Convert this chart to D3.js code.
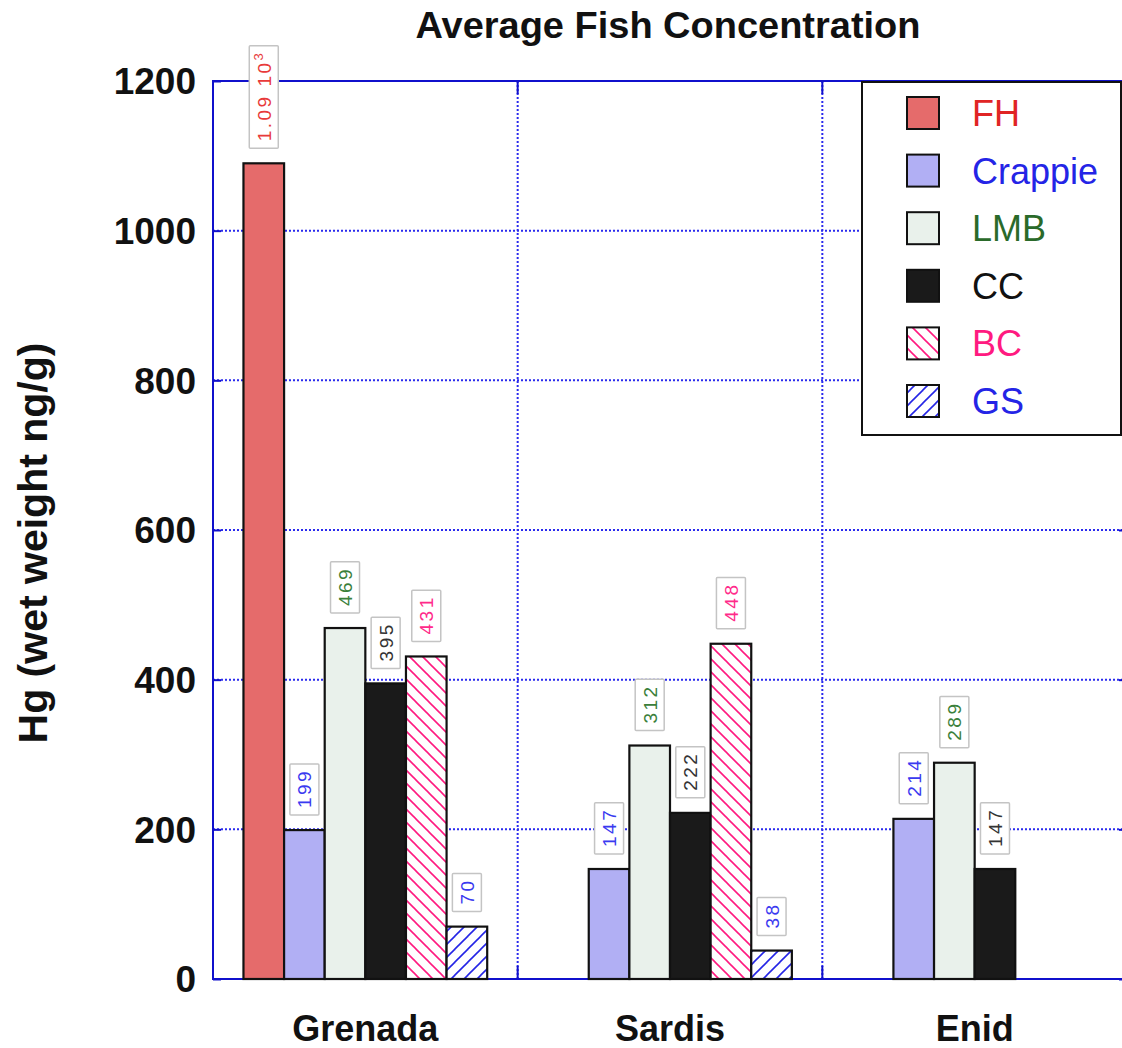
<!DOCTYPE html>
<html>
<head>
<meta charset="utf-8">
<script src="https://cdn.jsdelivr.net/npm/d3@7"></script>
<style>
  html, body { margin: 0; padding: 0; background: #fff; }
  svg { display: block; font-family: "Liberation Sans", Arial, Helvetica, sans-serif; }
</style>
</head>
<body>
<svg id="chart" width="1122" height="1048"></svg>
<script>
// Sites along the x axis
const sites = ["Grenada", "Sardis", "Enid"];
// Fish species (series)
const species = ["FH", "Crappie", "LMB", "CC", "BC", "GS"];
// Mean Hg concentration per species, one entry per site (null = not sampled)
const fhValues      = [1090, null, null];
const crappieValues = [199, 147, 214];
const lmbValues     = [469, 312, 289];
const ccValues      = [395, 222, 147];
const bcValues      = [431, 448, null];
const gsValues      = [70, 38, null];
// Y-axis tick values
const yTicks = [0, 200, 400, 600, 800, 1000, 1200];

const seriesValues = {
  FH: fhValues, Crappie: crappieValues, LMB: lmbValues,
  CC: ccValues, BC: bcValues, GS: gsValues
};

const style = {
  FH:      { fill: "#e56b6b", text: "#e02424", label: "#e83a3a" },
  Crappie: { fill: "#b1aff4", text: "#2424e6", label: "#3a3af0" },
  LMB:     { fill: "#e9f1eb", text: "#2a6a2a", label: "#3a803a" },
  CC:      { fill: "#1a1a1a", text: "#111111", label: "#333333" },
  BC:      { fill: "url(#hatchBC)", text: "#ff1a80", label: "#ff2a8a" },
  GS:      { fill: "url(#hatchGS)", text: "#2424e6", label: "#3a3af0" }
};

const svg = d3.select("#chart");
const margin = { left: 213, right: 1127, top: 81, bottom: 979 };
const axisBlue = "#1010cc";
const gridBlue = "#2a2aee";

// Hatch patterns
const defs = svg.append("defs");
function hatch(id, color, dir) {
  const s = 13;
  const p = defs.append("pattern")
    .attr("id", id).attr("patternUnits", "userSpaceOnUse")
    .attr("width", s).attr("height", s);
  p.append("rect").attr("width", s).attr("height", s).attr("fill", "#fff");
  const segs = dir === "back"
    ? [[-s, 0, s, 2 * s], [0, 0, s, s], [0, -s, 2 * s, s]]
    : [[0, s, s, 0], [-s, s, s, -s], [0, 2 * s, 2 * s, 0]];
  segs.forEach(([x1, y1, x2, y2]) => {
    p.append("line").attr("x1", x1).attr("y1", y1).attr("x2", x2).attr("y2", y2)
      .attr("stroke", color).attr("stroke-width", 1.6);
  });
}
hatch("hatchBC", "#ff1a80", "back");
hatch("hatchGS", "#2424e6", "fwd");

const x0 = d3.scaleBand().domain(sites)
  .range([margin.left, margin.right]).paddingInner(0.2).paddingOuter(0.1);
const x1 = d3.scaleBand().domain(species).range([0, x0.bandwidth()]);
const y = d3.scaleLinear().domain([0, 1200]).range([margin.bottom, margin.top]);

// Grid lines
const grid = svg.append("g");
yTicks.filter(t => t > 0 && t < 1200).forEach(t => {
  grid.append("line")
    .attr("x1", margin.left).attr("x2", margin.right)
    .attr("y1", y(t)).attr("y2", y(t))
    .attr("stroke", gridBlue).attr("stroke-width", 2)
    .attr("stroke-dasharray", "2,2");
});
const boundaries = sites.slice(1).map(s => x0(s) - x0.step() * x0.paddingInner() / 2);
boundaries.forEach(bx => {
  grid.append("line")
    .attr("x1", bx).attr("x2", bx)
    .attr("y1", margin.top).attr("y2", margin.bottom)
    .attr("stroke", gridBlue).attr("stroke-width", 2)
    .attr("stroke-dasharray", "2,2");
});

// Axes frame
const frame = svg.append("g");
frame.append("rect")
  .attr("x", margin.left).attr("y", margin.top)
  .attr("width", margin.right - margin.left).attr("height", margin.bottom - margin.top)
  .attr("fill", "none").attr("stroke", axisBlue).attr("stroke-width", 2);

// Left and right y axes with inward ticks
const yAxisL = d3.axisRight(y).tickValues(yTicks).tickSize(8).tickFormat("");
const yAxisR = d3.axisLeft(y).tickValues(yTicks).tickSize(8).tickFormat("");
[[yAxisL, margin.left], [yAxisR, margin.right]].forEach(([ax, px]) => {
  const g = svg.append("g").attr("transform", `translate(${px},0)`).call(ax);
  g.select(".domain").remove();
  g.selectAll(".tick line").attr("stroke", axisBlue).attr("stroke-width", 2);
});

// Y tick labels
svg.append("g").selectAll("text").data(yTicks).join("text")
  .attr("x", 196).attr("y", d => y(d))
  .attr("dy", "0.36em")
  .attr("text-anchor", "end")
  .attr("font-size", 37).attr("font-weight", "bold").attr("fill", "#111")
  .text(d => d);

// Bottom ticks at group boundaries (inward)
const bottomTicks = svg.append("g");
boundaries.forEach(bx => {
  bottomTicks.append("line")
    .attr("x1", bx).attr("x2", bx)
    .attr("y1", margin.bottom).attr("y2", margin.bottom - 13)
    .attr("stroke", axisBlue).attr("stroke-width", 2);
  bottomTicks.append("line")
    .attr("x1", bx).attr("x2", bx)
    .attr("y1", margin.top).attr("y2", margin.top + 13)
    .attr("stroke", axisBlue).attr("stroke-width", 2);
});

// X category labels
const xAxis = d3.axisBottom(x0).tickSize(0).tickPadding(0);
const xg = svg.append("g").attr("transform", `translate(0,${margin.bottom})`).call(xAxis);
xg.select(".domain").remove();
xg.selectAll("text")
  .attr("y", 62).attr("dy", 0)
  .attr("font-size", 36).attr("font-weight", "bold").attr("fill", "#111")
  .attr("font-family", "Liberation Sans, Arial, sans-serif");

// Bars
const rows = [];
sites.forEach((site, i) => {
  species.forEach(sp => {
    const v = seriesValues[sp][i];
    if (v != null) rows.push({ site, sp, v });
  });
});

const bars = svg.append("g");
bars.selectAll("rect").data(rows).join("rect")
  .attr("x", d => x0(d.site) + x1(d.sp))
  .attr("y", d => y(d.v))
  .attr("width", x1.bandwidth())
  .attr("height", d => y(0) - y(d.v))
  .attr("fill", d => style[d.sp].fill)
  .attr("stroke", "#111").attr("stroke-width", 2.2);

// Value labels: rotated text in a light box above each bar
const labels = svg.append("g");
rows.forEach(d => {
  const cx = x0(d.site) + x1(d.sp) + x1.bandwidth() / 2;
  const bottom = y(d.v) - 15;
  const g = labels.append("g");
  const t = g.append("text")
    .attr("transform", `translate(${cx + 7},${bottom - 7}) rotate(-90)`)
    .attr("font-size", 19).attr("letter-spacing", 2.5)
    .attr("fill", style[d.sp].label);
  if (d.v >= 1000) {
    t.append("tspan").text((d.v / 1000).toFixed(2) + " 10");
    t.append("tspan").attr("font-size", 13).attr("dy", -8).text("3");
  } else {
    t.text(d.v);
  }
  const len = t.node().getComputedTextLength();
  const h = len + 12;
  g.insert("rect", "text")
    .attr("x", cx - 14.5).attr("y", bottom - h)
    .attr("width", 29).attr("height", h)
    .attr("fill", "#fff").attr("stroke", "#c4c4c4").attr("stroke-width", 1.5)
    .attr("rx", 1);
});

// Legend
const legend = svg.append("g");
legend.append("rect")
  .attr("x", 862).attr("y", 82).attr("width", 259).attr("height", 353)
  .attr("fill", "#fff").attr("stroke", "#111").attr("stroke-width", 2);
const legY = d3.scalePoint().domain(species).range([113, 401]);
species.forEach(sp => {
  const cy = legY(sp);
  legend.append("rect")
    .attr("x", 907).attr("y", cy - 16).attr("width", 32).attr("height", 32)
    .attr("fill", style[sp].fill).attr("stroke", "#111").attr("stroke-width", 2);
  legend.append("text")
    .attr("x", 972).attr("y", cy).attr("dy", "0.36em")
    .attr("font-size", 36).attr("fill", style[sp].text)
    .text(sp);
});

// Title
svg.append("text")
  .attr("x", 668).attr("y", 38)
  .attr("text-anchor", "middle")
  .attr("font-size", 37).attr("font-weight", "bold").attr("fill", "#111")
  .attr("textLength", 505).attr("lengthAdjust", "spacingAndGlyphs")
  .text("Average Fish Concentration");

// Y axis title
svg.append("text")
  .attr("transform", "translate(47,543) rotate(-90)")
  .attr("text-anchor", "middle")
  .attr("font-size", 41).attr("font-weight", "bold").attr("fill", "#111")
  .text("Hg (wet weight ng/g)");
</script>
</body>
</html>
